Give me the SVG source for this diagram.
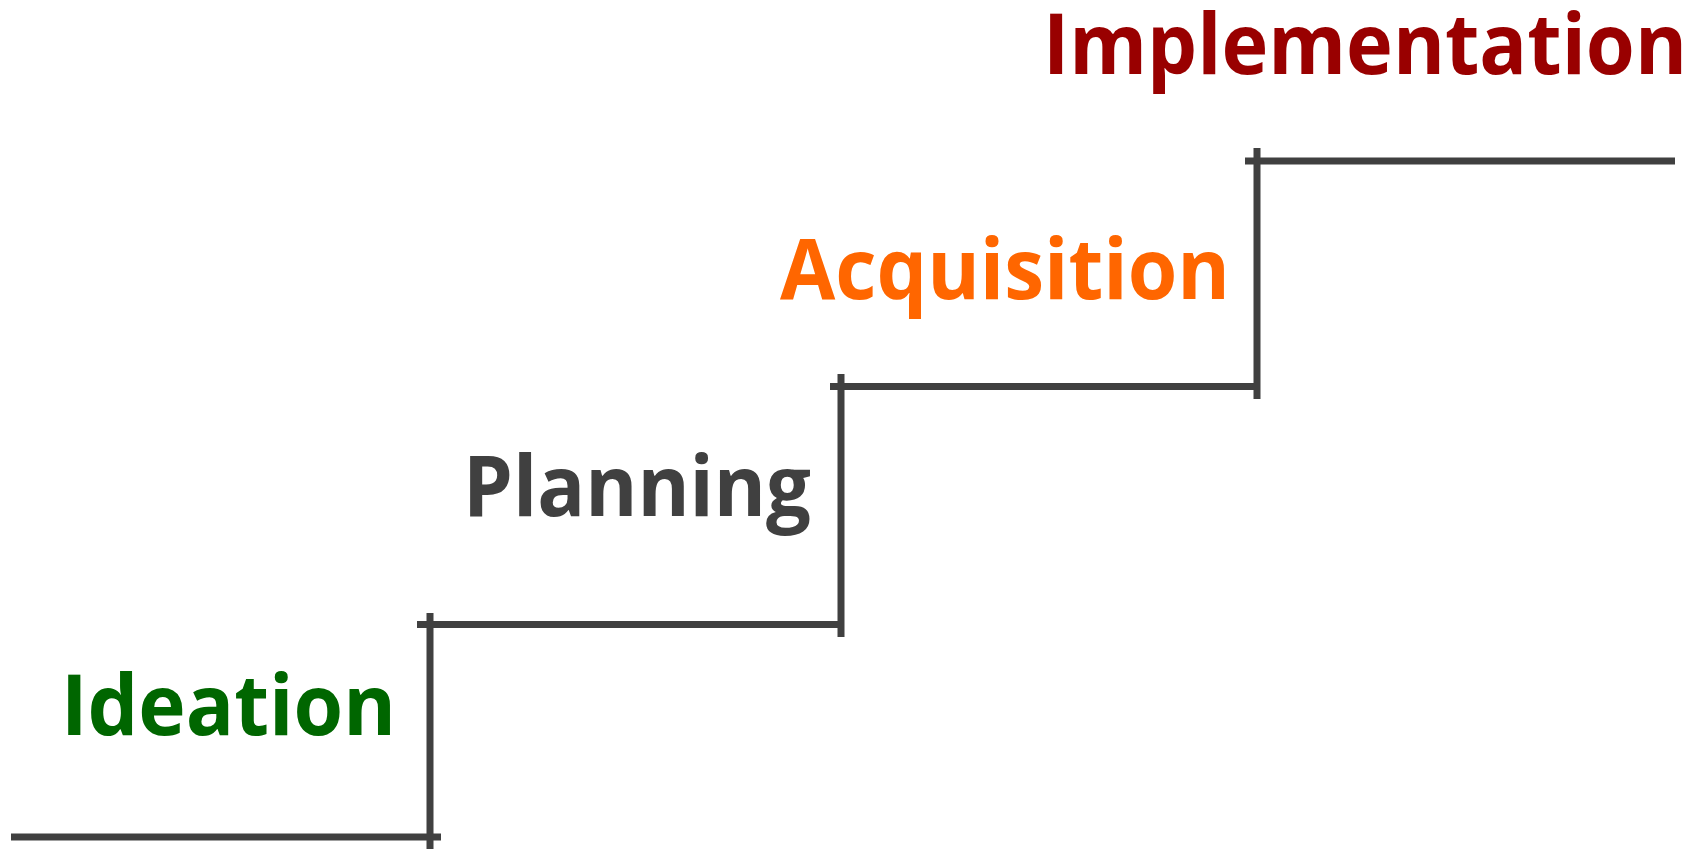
<svg xmlns="http://www.w3.org/2000/svg" width="1704" height="849" viewBox="0 0 1704 849">
  <style>
    .bg { fill: #ffffff; }
    .step { stroke: #404040; stroke-width: 7; fill: none; stroke-linecap: butt; }
    .label { font-family: "Open Sans", "Noto Sans", "Liberation Sans", sans-serif; font-weight: bold; font-size: 84px; }
    .ideation { fill: #006600; }
    .planning { fill: #404040; }
    .acquisition { fill: #FF6600; }
    .implementation { fill: #990000; }
  </style>
  <rect class="bg" x="0" y="0" width="1704" height="849"/>
  <g id="connectors">
    <line class="step" x1="11" y1="837" x2="441" y2="837"/>
    <line class="step" x1="430" y1="613" x2="430" y2="849"/>
    <line class="step" x1="417" y1="624.5" x2="841" y2="624.5"/>
    <line class="step" x1="841" y1="374" x2="841" y2="637"/>
    <line class="step" x1="830" y1="386.5" x2="1257" y2="386.5"/>
    <line class="step" x1="1257" y1="148" x2="1257" y2="399"/>
    <line class="step" x1="1245" y1="161" x2="1675" y2="161"/>
  </g>
  <g id="ideation">
    <text class="label ideation" x="61" y="735" textLength="335" lengthAdjust="spacingAndGlyphs">Ideation</text>
  </g>
  <g id="planning">
    <text class="label planning" x="463" y="516" textLength="348" lengthAdjust="spacingAndGlyphs">Planning</text>
  </g>
  <g id="acquisition">
    <text class="label acquisition" x="780" y="299" textLength="450" lengthAdjust="spacingAndGlyphs">Acquisition</text>
  </g>
  <g id="implementation">
    <text class="label implementation" x="1043" y="74" textLength="644" lengthAdjust="spacingAndGlyphs">Implementation</text>
  </g>
</svg>
